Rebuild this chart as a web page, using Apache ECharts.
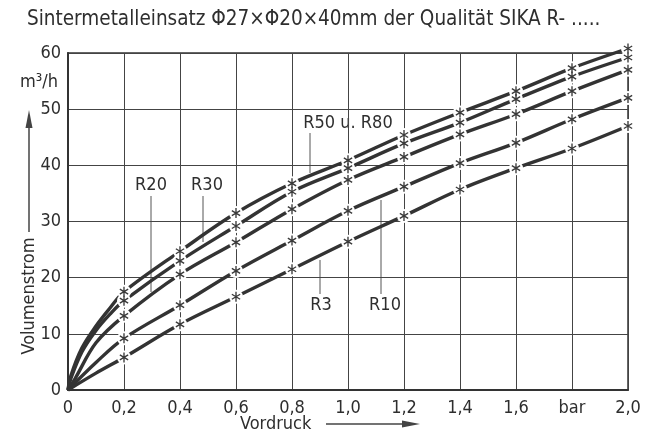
<!DOCTYPE html>
<html>
<head>
<meta charset="utf-8">
<script src="https://cdn.jsdelivr.net/npm/echarts@6/dist/echarts.min.js"></script>
<style>
html,body{margin:0;padding:0;background:#fff;}
#c{width:648px;height:437px;}
</style>
</head>
<body>
<div id="c"></div>
<script>
// Marker positions (bar) and tick labels
const markerX = [0.2,0.4,0.6,0.8,1.0,1.2,1.4,1.6,1.8,2.0];
const xTickLabels = ['0','0,2','0,4','0,6','0,8','1,0','1,2','1,4','1,6','bar','2,0'];
const yTickLabels = ['0','10','20','30','40','50','60'];

// Volume flow (m3/h) at marker positions
const r50r80 = [17.5,24.7,31.5,36.8,40.9,45.4,49.4,53.2,57.3,60.8];
const r30    = [15.9,23.0,29.2,35.3,39.5,43.9,47.6,51.8,55.8,59.2];
const r20    = [13.2,20.6,26.3,32.2,37.4,41.5,45.5,49.1,53.2,57.0];
const r10    = [9.2,15.1,21.2,26.6,31.9,36.2,40.4,44.0,48.2,52.0];
const r3     = [5.8,11.7,16.6,21.5,26.4,31.0,35.7,39.5,43.0,47.0];

// Start sections of the curves near the origin
const r50r80StartX = [0,0.01,0.05,0.1,0.15];
const r50r80Start  = [0,2.5,7.5,11.4,14.6];
const r30StartX = [0,0.01,0.05,0.1,0.15];
const r30Start  = [0,2.0,6.8,10.6,13.5];
const r20StartX = [0,0.025,0.1];
const r20Start  = [0,2.0,8.4];
const r10StartX = [0,0.1];
const r10Start  = [0,4.9];
const r3StartX  = [0,0.1];
const r3Start   = [0,3.0];

const curves = [
  {name:'R50 u. R80', sx:r50r80StartX, sy:r50r80Start, y:r50r80},
  {name:'R30', sx:r30StartX, sy:r30Start, y:r30},
  {name:'R20', sx:r20StartX, sy:r20Start, y:r20},
  {name:'R10', sx:r10StartX, sy:r10Start, y:r10},
  {name:'R3',  sx:r3StartX,  sy:r3Start,  y:r3}
];

const FONT = '"DejaVu Sans Condensed","DejaVu Sans",sans-serif';
const INK = '#2e2e2e';
const LINE = '#333333';

const asterisk = 'path://M-0.7,5L-0.7,-5L0.7,-5L0.7,5Z' +
  'M3.98,3.106L-4.68,-1.894L-3.98,-3.106L4.68,1.894Z' +
  'M-4.68,1.894L3.98,-3.106L4.68,-1.894L-3.98,3.106Z';

const series = [];
curves.forEach(c => {
  const data = c.sx.map((x,i)=>[x,c.sy[i]]).concat(markerX.map((x,i)=>[x,c.y[i]]));
  series.push({
    type:'line', name:c.name, data:data, showSymbol:false, smooth:0.35,
    clip:false, z:2, silent:true,
    lineStyle:{color:LINE, width:3.4}
  });
});
const markerData = [];
curves.forEach(c => markerX.forEach((x,i)=>markerData.push([x,c.y[i]])));
series.push({type:'scatter', data:markerData, symbol:'circle', symbolSize:14,
  itemStyle:{color:'#fff', opacity:1}, z:3, silent:true, clip:false});
series.push({type:'scatter', data:markerData, symbol:asterisk, symbolSize:[9,10],
  itemStyle:{color:'#3a3a3a', opacity:1}, z:4, silent:true, clip:false});

const option = {
  backgroundColor:'#fff',
  animation:false,
  grid:{left:68, right:20, top:53, bottom:47, show:true, borderColor:'#333', borderWidth:1.5},
  xAxis:{type:'value', min:0, max:2, interval:0.2,
    axisLine:{show:true, lineStyle:{color:'#333', width:2}},
    axisTick:{show:false},
    splitLine:{show:true, lineStyle:{color:'#444', width:1}},
    axisLabel:{margin:9, color:INK, fontFamily:FONT, fontSize:18,
      formatter:(v)=>xTickLabels[Math.round(v/0.2)]}
  },
  yAxis:{type:'value', min:0, max:60, interval:10,
    axisLine:{show:true, lineStyle:{color:'#333', width:2}},
    axisTick:{show:false},
    splitLine:{show:true, lineStyle:{color:'#444', width:1}},
    axisLabel:{margin:7, color:INK, fontFamily:FONT, fontSize:18,
      formatter:(v)=>yTickLabels[Math.round(v/10)]}
  },
  series:series,
  graphic:[
    {type:'text', left:27, top:9, style:{text:'Sintermetalleinsatz Φ27×Φ20×40mm der Qualität SIKA R- .....', font:'20.5px '+FONT, fill:INK}},
    {type:'text', left:20, top:73, style:{text:'m³/h', font:'18px '+FONT, fill:INK}},
    // y title with arrow
    {type:'text', x:29, y:296, rotation:Math.PI/2, style:{text:'Volumenstrom', font:'18px '+FONT, fill:INK, align:'center', verticalAlign:'middle'}},
    {type:'line', shape:{x1:29, y1:232, x2:29, y2:124}, style:{stroke:'#444', lineWidth:1.5}},
    {type:'polygon', shape:{points:[[29,110],[25.5,128],[32.5,128]]}, style:{fill:'#444'}},
    // x title with arrow
    {type:'text', x:240, y:424, style:{text:'Vordruck', font:'18px '+FONT, fill:INK, verticalAlign:'middle'}},
    {type:'line', shape:{x1:326, y1:424, x2:405, y2:424}, style:{stroke:'#444', lineWidth:1.5}},
    {type:'polygon', shape:{points:[[420,424],[402,420.5],[402,427.5]]}, style:{fill:'#444'}},
    // curve labels with leader lines
    {type:'text', x:151, y:185, style:{text:'R20', font:'18px '+FONT, fill:INK, align:'center', verticalAlign:'middle'}},
    {type:'line', shape:{x1:151, y1:196, x2:151, y2:292}, style:{stroke:'#555', lineWidth:1}},
    {type:'text', x:207, y:185, style:{text:'R30', font:'18px '+FONT, fill:INK, align:'center', verticalAlign:'middle'}},
    {type:'line', shape:{x1:203, y1:196, x2:203, y2:242}, style:{stroke:'#555', lineWidth:1}},
    {type:'text', x:348, y:123, style:{text:'R50 u. R80', font:'18px '+FONT, fill:INK, align:'center', verticalAlign:'middle'}},
    {type:'line', shape:{x1:310, y1:133, x2:310, y2:173}, style:{stroke:'#555', lineWidth:1}},
    {type:'text', x:321, y:305, style:{text:'R3', font:'18px '+FONT, fill:INK, align:'center', verticalAlign:'middle'}},
    {type:'line', shape:{x1:320, y1:260, x2:320, y2:294}, style:{stroke:'#555', lineWidth:1}},
    {type:'text', x:385, y:305, style:{text:'R10', font:'18px '+FONT, fill:INK, align:'center', verticalAlign:'middle'}},
    {type:'line', shape:{x1:381, y1:200, x2:381, y2:294}, style:{stroke:'#555', lineWidth:1}}
  ]
};
echarts.init(document.getElementById('c')).setOption(option);
</script>
</body>
</html>
